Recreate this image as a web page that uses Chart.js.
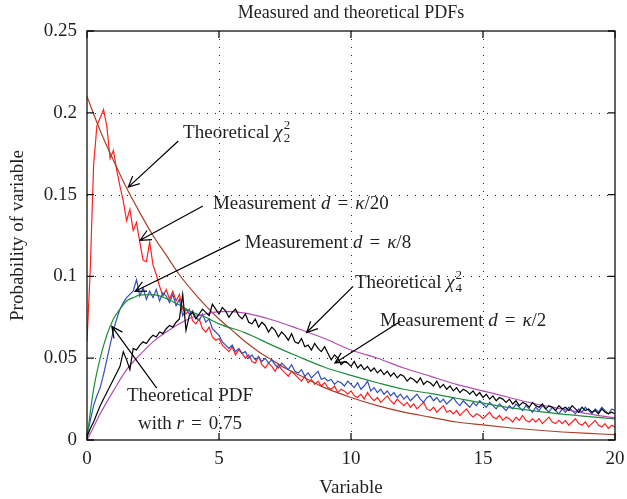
<!DOCTYPE html>
<html>
<head>
<meta charset="utf-8">
<script src="https://cdn.jsdelivr.net/npm/chart.js@4.4.1/dist/chart.umd.min.js"></script>
<style>
  html, body { margin: 0; padding: 0; background: #fff; }
</style>
</head>
<body>
<canvas id="pdfChart" width="627" height="499"></canvas>
<script>
var FONT = "'Liberation Serif', 'DejaVu Serif', serif";
var TEXT = "#231f20";

var xTicks = [0, 5, 10, 15, 20];
var xTickLabels = ["0", "5", "10", "15", "20"];
var yTicks = [0, 0.05, 0.1, 0.15, 0.2, 0.25];
var yTickLabels = ["0", "0.05", "0.1", "0.15", "0.2", "0.25"];

// measured curves are sampled every STEP on the x axis, starting at 0
var STEP = 0.125;

// Measurement d = kappa/20
var redY = [
    0.060, 0.105, 0.168, 0.192, 0.197, 0.202, 0.192, 0.172,
    0.177, 0.165, 0.155, 0.146, 0.134, 0.141, 0.128, 0.133,
    0.121, 0.110, 0.109, 0.121, 0.107, 0.101, 0.094, 0.088,
    0.092, 0.086, 0.091, 0.085, 0.089, 0.080, 0.077, 0.080,
    0.073, 0.071, 0.074, 0.068, 0.066, 0.069, 0.063, 0.061,
    0.062, 0.058, 0.056, 0.054, 0.057, 0.052, 0.055, 0.053,
    0.050, 0.052, 0.048, 0.047, 0.051, 0.046, 0.044, 0.047,
    0.045, 0.042, 0.046, 0.043, 0.041, 0.039, 0.042, 0.040,
    0.038, 0.036, 0.039, 0.035, 0.037, 0.034, 0.036, 0.033,
    0.035, 0.032, 0.031, 0.033, 0.029, 0.031, 0.030, 0.028,
    0.030, 0.027, 0.026, 0.028, 0.025, 0.029, 0.026, 0.024,
    0.026, 0.023, 0.025, 0.027, 0.024, 0.022, 0.025, 0.023,
    0.021, 0.023, 0.020, 0.022, 0.019, 0.021, 0.023, 0.019,
    0.018, 0.020, 0.017, 0.019, 0.021, 0.017, 0.018, 0.016,
    0.018, 0.015, 0.017, 0.019, 0.016, 0.014, 0.016, 0.015,
    0.013, 0.015, 0.017, 0.014, 0.013, 0.015, 0.012, 0.014,
    0.013, 0.011, 0.014, 0.012, 0.015, 0.012, 0.011, 0.013,
    0.011, 0.013, 0.010, 0.012, 0.014, 0.011, 0.010, 0.012,
    0.010, 0.012, 0.009, 0.011, 0.013, 0.010, 0.009, 0.011,
    0.008, 0.010, 0.012, 0.009, 0.008, 0.010, 0.007, 0.009, 0.008
];

// Measurement d = kappa/8
var blueY = [
    0.003, 0.012, 0.021, 0.027, 0.032, 0.040, 0.049, 0.058,
    0.067, 0.074, 0.080, 0.084, 0.087, 0.089, 0.091, 0.098,
    0.088, 0.093, 0.086, 0.091, 0.087, 0.092, 0.085, 0.090,
    0.088, 0.084, 0.089, 0.082, 0.086, 0.076, 0.080, 0.077,
    0.079, 0.075, 0.073, 0.077, 0.072, 0.074, 0.068, 0.066,
    0.064, 0.060, 0.058, 0.056, 0.058, 0.054, 0.056, 0.053,
    0.054, 0.050, 0.052, 0.049, 0.051, 0.048, 0.050, 0.047,
    0.049, 0.046, 0.044, 0.047, 0.045, 0.043, 0.046, 0.042,
    0.041, 0.043, 0.039, 0.041, 0.038, 0.040, 0.042, 0.037,
    0.038, 0.036, 0.037, 0.034, 0.036, 0.035, 0.033, 0.036,
    0.034, 0.032, 0.035, 0.031, 0.033, 0.036, 0.030, 0.032,
    0.029, 0.031, 0.028, 0.030, 0.027, 0.029, 0.026, 0.028,
    0.025, 0.027, 0.024, 0.026, 0.028, 0.025, 0.023, 0.026,
    0.027, 0.024, 0.026, 0.023, 0.025, 0.022, 0.024, 0.026,
    0.023, 0.021, 0.024, 0.022, 0.020, 0.023, 0.021, 0.024,
    0.022, 0.020, 0.023, 0.021, 0.019, 0.022, 0.020, 0.018,
    0.021, 0.019, 0.022, 0.020, 0.018, 0.021, 0.019, 0.017,
    0.020, 0.018, 0.021, 0.019, 0.017, 0.020, 0.018, 0.016,
    0.019, 0.017, 0.020, 0.018, 0.016, 0.019, 0.017, 0.020,
    0.018, 0.016, 0.019, 0.017, 0.020, 0.018, 0.016, 0.019, 0.018
];

// Measurement d = kappa/2
var blackY = [
    0.002, 0.007, 0.011, 0.016, 0.021, 0.025, 0.029, 0.033,
    0.037, 0.041, 0.045, 0.054, 0.049, 0.043, 0.056, 0.055,
    0.058, 0.060, 0.059, 0.062, 0.064, 0.063, 0.066, 0.065,
    0.068, 0.070, 0.069, 0.072, 0.074, 0.089, 0.067, 0.076,
    0.078, 0.074, 0.077, 0.080, 0.078, 0.076, 0.083, 0.080,
    0.077, 0.081, 0.079, 0.075, 0.078, 0.080, 0.076, 0.074,
    0.077, 0.072, 0.071, 0.074, 0.069, 0.072, 0.070, 0.066,
    0.069, 0.067, 0.063, 0.066, 0.064, 0.061, 0.065, 0.060,
    0.059, 0.062, 0.057, 0.058, 0.055, 0.059, 0.056, 0.054,
    0.057, 0.053, 0.049, 0.052, 0.050, 0.046, 0.048, 0.047,
    0.045, 0.048, 0.044, 0.046, 0.043, 0.045, 0.042, 0.044,
    0.041, 0.043, 0.040, 0.042, 0.039, 0.041, 0.038, 0.040,
    0.039, 0.036, 0.038, 0.037, 0.035, 0.038, 0.034, 0.036,
    0.035, 0.033, 0.036, 0.032, 0.034, 0.031, 0.033, 0.030,
    0.032, 0.029, 0.031, 0.030, 0.028, 0.030, 0.027, 0.029,
    0.026, 0.028, 0.025, 0.027, 0.024, 0.026, 0.025, 0.023,
    0.025, 0.022, 0.024, 0.021, 0.023, 0.022, 0.020, 0.023,
    0.021, 0.020, 0.022, 0.019, 0.021, 0.020, 0.018, 0.021,
    0.019, 0.020, 0.018, 0.021, 0.019, 0.017, 0.020, 0.018,
    0.019, 0.017, 0.018, 0.016, 0.019, 0.017, 0.016, 0.017, 0.016
];

// Theoretical chi^2_2
var chi2X = [0, 0.5, 1, 1.5, 2, 2.5, 3, 3.5, 4, 4.5, 5, 5.5, 6, 6.5, 7, 7.5, 8, 9, 10, 11, 12, 13, 14, 15, 16, 17, 18, 19, 20];
var chi2Y = [0.210, 0.189, 0.171, 0.154, 0.139, 0.125, 0.113, 0.101, 0.091, 0.082, 0.074, 0.067, 0.060, 0.054, 0.049, 0.044, 0.040,
    0.032, 0.026, 0.021, 0.017, 0.014, 0.011, 0.0092, 0.0075, 0.0061, 0.0049, 0.0040, 0.0033];

// Theoretical PDF with r = 0.75
var pdfX = [0, 0.125, 0.25, 0.5, 0.75, 1, 1.25, 1.5, 1.75, 2, 2.5, 3, 3.5, 4, 4.5, 5, 6, 7, 8, 9, 10, 11, 12, 13, 14, 15, 16, 17, 18, 19, 20];
var pdfY = [0, 0.017, 0.031, 0.050, 0.064, 0.074, 0.080, 0.085, 0.087, 0.0885, 0.0888, 0.0865, 0.0825, 0.078, 0.075, 0.071,
    0.0655, 0.058, 0.051, 0.0445, 0.0395, 0.035, 0.031, 0.0285, 0.0255, 0.0225, 0.0198, 0.0177, 0.0158, 0.0143, 0.0129];

// Theoretical chi^2_4
var chi4X = [0, 0.25, 0.5, 1, 1.5, 2, 2.5, 3, 3.5, 4, 4.5, 5, 5.5, 6, 7, 8, 9, 10, 11, 12, 13, 14, 15, 16, 17, 18, 19, 20];
var chi4Y = [0, 0.008, 0.016, 0.030, 0.043, 0.052, 0.060, 0.066, 0.071, 0.075, 0.077, 0.0785, 0.0785, 0.0775, 0.0735, 0.068,
    0.062, 0.055, 0.050, 0.044, 0.039, 0.034, 0.030, 0.026, 0.022, 0.019, 0.016, 0.0135];

// labels inside the plot, anchored in data units (baseline, left edge unless centered)
var labels = [
    {x: 3.64, y: 0.1845, parts: [{t: "Theoretical "}, {t: "χ", i: true}, {sup: "2", sub: "2"}]},
    {x: 4.77, y: 0.1409, parts: [{t: "Measurement "}, {t: "d", i: true}, {t: "=", pad: 7}, {t: "κ", i: true}, {t: "/20"}]},
    {x: 5.98, y: 0.1176, parts: [{t: "Measurement "}, {t: "d", i: true}, {t: "=", pad: 7}, {t: "κ", i: true}, {t: "/8"}]},
    {x: 10.15, y: 0.0931, parts: [{t: "Theoretical "}, {t: "χ", i: true}, {sup: "2", sub: "4"}]},
    {x: 11.1, y: 0.0699, parts: [{t: "Measurement "}, {t: "d", i: true}, {t: "=", pad: 7}, {t: "κ", i: true}, {t: "/2"}]},
    {x: 3.9, y: 0.0239, center: true, parts: [{t: "Theoretical PDF"}]},
    {x: 3.9, y: 0.0067, center: true, parts: [{t: "with "}, {t: "r", i: true}, {t: "=", pad: 7}, {t: "0.75"}]}
];
var arrows = [
    {x0: 3.46, y0: 0.1828, x1: 1.565, y1: 0.1546},
    {x0: 4.39, y0: 0.143, x1: 2.01, y1: 0.1221},
    {x0: 5.8, y0: 0.1225, x1: 1.82, y1: 0.0909},
    {x0: 10.08, y0: 0.0939, x1: 8.32, y1: 0.0657},
    {x0: 11.86, y0: 0.0725, x1: 9.39, y1: 0.047},
    {x0: 2.64, y0: 0.0317, x1: 0.94, y1: 0.0694}
];

function pairs(xs, ys) {
    return ys.map(function (y, i) { return {x: xs[i], y: y}; });
}
function sampled(ys) {
    return ys.map(function (y, i) { return {x: i * STEP, y: y}; });
}

function partFont(p) {
    if (p.sup !== undefined) return "13px " + FONT;
    return (p.i ? "italic " : "") + "19px " + FONT;
}
function partWidth(ctx, p) {
    ctx.font = partFont(p);
    if (p.sup !== undefined) {
        return Math.max(ctx.measureText(p.sup).width, ctx.measureText(p.sub).width) + 1;
    }
    return ctx.measureText(p.t).width + 2 * (p.pad || 0);
}
function drawRich(ctx, parts, x, y, center) {
    var total = 0;
    parts.forEach(function (p) { total += partWidth(ctx, p); });
    var cx = center ? x - total / 2 : x;
    ctx.textBaseline = "alphabetic";
    ctx.textAlign = "left";
    parts.forEach(function (p) {
        var w = partWidth(ctx, p);
        ctx.font = partFont(p);
        if (p.sup !== undefined) {
            ctx.fillText(p.sup, cx + 1, y - 9);
            ctx.fillText(p.sub, cx + 1, y + 4);
        } else {
            ctx.fillText(p.t, cx + (p.pad || 0), y);
        }
        cx += w;
    });
}

var framePlugin = {
    id: "frame",
    beforeDatasetsDraw: function (chart) {
        var ctx = chart.ctx, a = chart.chartArea;
        var xs = chart.scales.x, ys = chart.scales.y;
        ctx.save();
        ctx.strokeStyle = "#222";
        ctx.lineWidth = 1;
        ctx.setLineDash([1, 7]);
        xTicks.slice(1, -1).forEach(function (v) {
            var px = Math.round(xs.getPixelForValue(v)) + 0.5;
            ctx.beginPath();
            ctx.moveTo(px, a.bottom);
            ctx.lineTo(px, a.top);
            ctx.stroke();
        });
        yTicks.slice(1, -1).forEach(function (v) {
            var py = Math.round(ys.getPixelForValue(v)) + 0.5;
            ctx.beginPath();
            ctx.moveTo(a.left, py);
            ctx.lineTo(a.right, py);
            ctx.stroke();
        });
        ctx.restore();
    },
    afterDatasetsDraw: function (chart) {
        var ctx = chart.ctx, a = chart.chartArea;
        var xs = chart.scales.x, ys = chart.scales.y;
        var tick = 7;
        ctx.save();
        ctx.strokeStyle = "#111";
        ctx.lineWidth = 1.3;
        ctx.strokeRect(a.left, a.top, a.right - a.left, a.bottom - a.top);
        ctx.beginPath();
        xTicks.forEach(function (v) {
            var px = xs.getPixelForValue(v);
            ctx.moveTo(px, a.bottom);
            ctx.lineTo(px, a.bottom - tick);
            ctx.moveTo(px, a.top);
            ctx.lineTo(px, a.top + tick);
        });
        yTicks.forEach(function (v) {
            var py = ys.getPixelForValue(v);
            ctx.moveTo(a.left, py);
            ctx.lineTo(a.left + tick, py);
            ctx.moveTo(a.right, py);
            ctx.lineTo(a.right - tick, py);
        });
        ctx.stroke();

        // arrows
        ctx.strokeStyle = "#000";
        ctx.lineWidth = 1.2;
        arrows.forEach(function (ar) {
            var x0 = xs.getPixelForValue(ar.x0), y0 = ys.getPixelForValue(ar.y0);
            var x1 = xs.getPixelForValue(ar.x1), y1 = ys.getPixelForValue(ar.y1);
            var ang = Math.atan2(y1 - y0, x1 - x0);
            var head = 12, spread = 0.45;
            ctx.beginPath();
            ctx.moveTo(x0, y0);
            ctx.lineTo(x1, y1);
            ctx.moveTo(x1 - head * Math.cos(ang - spread), y1 - head * Math.sin(ang - spread));
            ctx.lineTo(x1, y1);
            ctx.lineTo(x1 - head * Math.cos(ang + spread), y1 - head * Math.sin(ang + spread));
            ctx.stroke();
        });

        // labels
        ctx.fillStyle = TEXT;
        labels.forEach(function (lb) {
            var px = xs.getPixelForValue(lb.x), py = ys.getPixelForValue(lb.y);
            drawRich(ctx, lb.parts, px, py, lb.center);
        });

        // title
        ctx.font = "18px " + FONT;
        ctx.textAlign = "center";
        ctx.textBaseline = "middle";
        ctx.fillText("Measured and theoretical PDFs", (a.left + a.right) / 2, 13);
        ctx.restore();
    }
};

var lineStyle = {pointRadius: 0, borderWidth: 1.2, fill: false};

new Chart(document.getElementById("pdfChart"), {
    type: "line",
    data: {
        datasets: [
            Object.assign({label: "Measurement d=k/2", data: sampled(blackY), borderColor: "#000000", tension: 0}, lineStyle),
            Object.assign({label: "Theoretical chi2_4", data: pairs(chi4X, chi4Y), borderColor: "#b44cb4", cubicInterpolationMode: "monotone"}, lineStyle),
            Object.assign({label: "Theoretical PDF r=0.75", data: pairs(pdfX, pdfY), borderColor: "#1e8c3c", cubicInterpolationMode: "monotone"}, lineStyle),
            Object.assign({label: "Measurement d=k/8", data: sampled(blueY), borderColor: "#2f4fb8", tension: 0}, lineStyle),
            Object.assign({label: "Theoretical chi2_2", data: pairs(chi2X, chi2Y), borderColor: "#a8402a", cubicInterpolationMode: "monotone"}, lineStyle),
            Object.assign({label: "Measurement d=k/20", data: sampled(redY), borderColor: "#ff2020", tension: 0}, lineStyle),
        ],
    },
    options: {
        responsive: false,
        animation: false,
        events: [],
        layout: {padding: {top: 31, right: 12, bottom: 0, left: 0}},
        plugins: {
            legend: {display: false},
            tooltip: {enabled: false},
        },
        scales: {
            x: {
                type: "linear",
                min: 0,
                max: 20,
                grid: {display: false},
                border: {display: false},
                afterBuildTicks: function (scale) {
                    scale.ticks = xTicks.map(function (v) { return {value: v}; });
                },
                afterFit: function (scale) { scale.height = 59; },
                ticks: {
                    padding: 0,
                    color: TEXT,
                    font: {family: FONT, size: 19},
                    maxRotation: 0,
                    callback: function (v) { return xTickLabels[xTicks.indexOf(v)]; },
                },
                title: {
                    display: true,
                    text: "Variable",
                    color: TEXT,
                    font: {family: FONT, size: 19},
                    padding: {top: 0, bottom: 0},
                },
            },
            y: {
                type: "linear",
                min: 0,
                max: 0.25,
                grid: {display: false},
                border: {display: false},
                afterBuildTicks: function (scale) {
                    scale.ticks = yTicks.map(function (v) { return {value: v}; });
                },
                afterFit: function (scale) { scale.width = 87; },
                ticks: {
                    padding: 2,
                    color: TEXT,
                    font: {family: FONT, size: 19},
                    callback: function (v) { return yTickLabels[yTicks.indexOf(v)]; },
                },
                title: {
                    display: true,
                    text: "Probability of variable",
                    color: TEXT,
                    font: {family: FONT, size: 19},
                    padding: {top: 7, bottom: 0},
                },
            },
        },
    },
    plugins: [framePlugin],
});
</script>
</body>
</html>
